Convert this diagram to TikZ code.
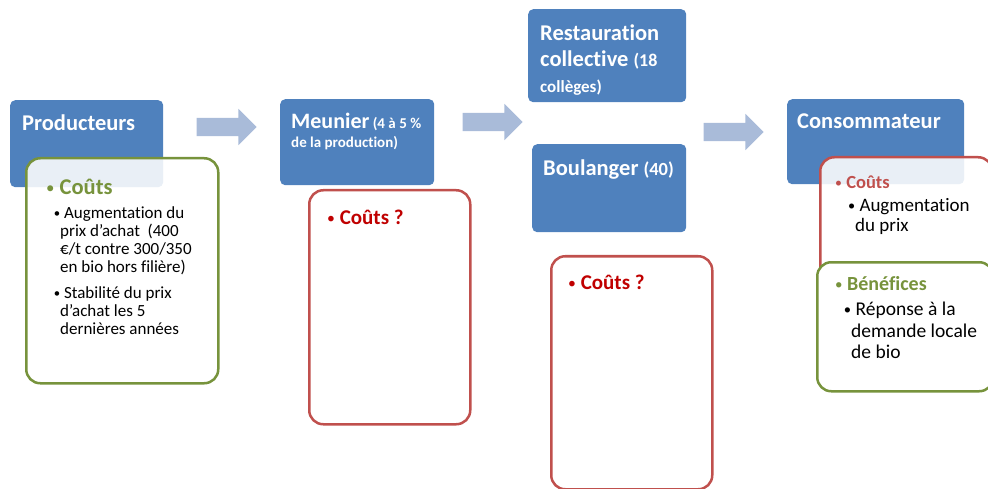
\documentclass[tikz,border=0pt]{standalone}
\usepackage{fontspec}
\setmainfont{Carlito}[Ligatures=NoCommon]
\usetikzlibrary{shapes.arrows}
\definecolor{actorblue}{HTML}{4F81BD}
\definecolor{arrowblue}{HTML}{A9BBD9}
\definecolor{costred}{HTML}{C0504D}
\definecolor{darkred}{HTML}{C00000}
\definecolor{benefgreen}{HTML}{77933C}
\newcommand\bigfont{\fontsize{22.5}{26}\selectfont}
\newcommand\subfont{\fontsize{17}{18}\selectfont}
\newcommand\pbullet{\raisebox{0.12ex}{\scalebox{0.75}{\textbullet}}}

\begin{document}
\begin{tikzpicture}[x=1pt,y=-1pt,
  actor/.style={fill=actorblue,rounded corners=5pt,anchor=north west,inner sep=0pt},
  actortxt/.style={text=white,font=\bfseries,anchor=north west,align=left,inner sep=0pt},
  costbox/.style={draw=costred,line width=2.5pt,rounded corners=14pt,fill=white,fill opacity=0.88,anchor=north west,inner sep=0pt},
  benefbox/.style={draw=benefgreen,line width=2.5pt,rounded corners=14pt,fill=white,fill opacity=0.88,anchor=north west,inner sep=0pt},
  itemtxt/.style={anchor=north west,align=left,inner sep=0pt},
  flowarrow/.style={single arrow,fill=arrowblue,inner sep=9pt,minimum height=60pt,single arrow head extend=9pt}]
\useasboundingbox (0,0) rectangle (988,489);
% ---- flow arrows ----
\foreach \n/\xc/\yc in {arra/222/127,arrb/488/122,arrc/729/132}{
  \node[flowarrow] (\n) at (\xc,\yc) {};
}
% ---- producteurs ----
\node[actor,minimum width=153pt,minimum height=87pt] (prod) at (10,100) {};
\node[actortxt,font=\bfseries\bigfont] (prodtxt) at (22,115) {Producteurs};
\node[benefbox,minimum width=192pt,minimum height=225pt] (prodbox) at (25,157) {};
\node[itemtxt,text=benefgreen,font=\bigfont] (prodcout) at (46,179) {\pbullet\ \textbf{Coûts}};
\node[itemtxt,font=\subfont] (prodaug) at (60,206) {\llap{\pbullet}\ Augmentation du\\prix d’achat\ \ (400\\€/t contre 300/350\\en bio hors filière)};
\node[itemtxt,font=\subfont] (prodstab) at (60,286) {\llap{\pbullet}\ Stabilité du prix\\d’achat les 5\\dernières années};
% ---- meunier ----
\node[actor,minimum width=154pt,minimum height=86pt] (meun) at (280,99) {};
\node[actortxt,font=\bfseries\fontsize{15}{19}\selectfont] (meuntxt) at (291,113) {{\fontsize{22}{26}\selectfont Meunier} (4 à 5 \%\\de la production)};
\node[costbox,minimum width=161pt,minimum height=234pt] (meunbox) at (308,189) {};
\node[itemtxt,text=darkred,font=\fontsize{21}{25}\selectfont] (meuncout) at (327,210) {\pbullet\ \textbf{Coûts ?}};
% ---- restauration collective et boulanger ----
\node[actor,minimum width=158pt,minimum height=93pt] (resto) at (528,9) {};
\node[actortxt,font=\bfseries\bigfont] (restotxt) at (540,25) {Restauration\\collective \fontsize{18}{21}\selectfont(18\\\fontsize{17}{20}\selectfont collèges)};
\node[actor,minimum width=154pt,minimum height=88pt] (boul) at (532,144) {};
\node[actortxt,font=\bfseries\bigfont] (boultxt) at (543,160) {Boulanger \fontsize{18.5}{22}\selectfont(40)};
\node[costbox,minimum width=161pt,minimum height=233pt] (boulbox) at (550,255) {};
\node[itemtxt,text=darkred,font=\fontsize{21}{25}\selectfont] (boulcout) at (568,275) {\pbullet\ \textbf{Coûts ?}};
% ---- consommateur ----
\node[actor,minimum width=177pt,minimum height=85pt] (conso) at (787,99) {};
\node[actortxt,font=\bfseries\bigfont] (consotxt) at (797,114) {Consommateur};
\node[costbox,minimum width=172pt,minimum height=150pt] (consobox) at (819,156) {};
\node[itemtxt,text=costred,font=\fontsize{18.5}{22}\selectfont] (consocout) at (835,176) {\pbullet\ \textbf{Coûts}};
\node[itemtxt,font=\fontsize{19}{20.5}\selectfont] (consoaug) at (855,198) {\llap{\pbullet}\ Augmentation\\du prix};
\node[benefbox,fill opacity=1,minimum width=176pt,minimum height=129pt] (benefbox) at (816,261) {};
\node[itemtxt,text=benefgreen,font=\fontsize{20}{22}\selectfont] (consobenef) at (835,276) {\pbullet\ \textbf{Bénéfices}};
\node[itemtxt,font=\fontsize{19.5}{21.5}\selectfont] (consorep) at (851,302) {\llap{\pbullet}\ Réponse à la\\demande locale\\de bio};
\end{tikzpicture}
\end{document}
